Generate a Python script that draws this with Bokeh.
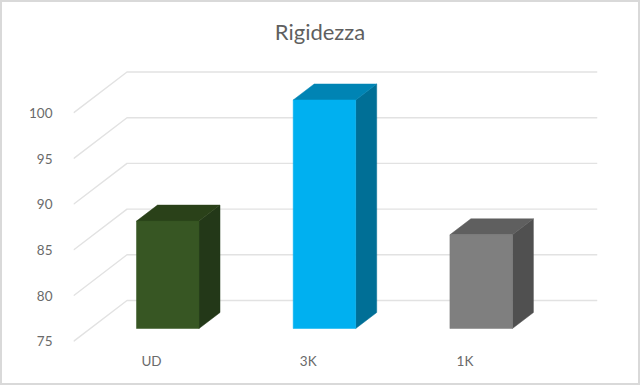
from bokeh.plotting import figure
from bokeh.models import Range1d, LinearAxis, FixedTicker
from bokeh.core.properties import value
from bokeh.embed import file_html
from bokeh.resources import INLINE

title = "Rigidezza"
categories = ["UD", "3K", "1K"]
values = [86.75, 100.0, 85.25]
y_ticks = [75, 80, 85, 90, 95, 100]
front_colors = ["#375623", "#00b0f0", "#7f7f7f"]
top_colors = ["#2a4119", "#0084b4", "#5f5f5f"]
side_colors = ["#233818", "#006f96", "#505050"]

W, H = 640, 385                   # outer size, border included
BW = 2                            # border width
L, R, T, B = 73, 597, 10, 345     # frame edges in page pixels
PX_X = 156.7                      # pixels per category step
PX_Y = 9.14                       # pixels per value unit
X0 = 167.25                       # pixel of the first bar's centre
Y75 = 328.0                       # pixel of value 75 on the bars' front plane
BASE = 75

def xr(px):
    return (px - X0) / PX_X

def vr(px, y75=Y75):
    return BASE + (y75 - px) / PX_Y

p = figure(width=W - 2 * BW, height=H - 2 * BW, output_backend="svg", toolbar_location=None,
           x_range=Range1d(xr(L), xr(R)), y_range=Range1d(vr(B), vr(T)),
           x_axis_type=None, y_axis_type=None,
           min_border_left=L - BW, min_border_right=W - BW - R + 2 * BW,
           min_border_top=T - BW, min_border_bottom=H - BW - B + 2 * BW)
p.grid.visible = False
p.outline_line_color = None
p.background_fill_color = "white"
p.border_fill_color = "white"
p.styles = {"position": "absolute", "left": "0px", "top": "0px",
            "border": f"{BW}px solid #d9d9d9", "box-sizing": "content-box"}

# extra scales: the labels sit on a plane in front of the bars
p.extra_y_ranges["labels"] = Range1d(vr(B, 340.9), vr(T, 340.9))
p.extra_x_ranges["labels"] = Range1d(xr(L + 16.2), xr(R + 16.2))

yaxis = LinearAxis(y_range_name="labels", ticker=FixedTicker(ticks=y_ticks))
xaxis = LinearAxis(x_range_name="labels", ticker=FixedTicker(ticks=list(range(len(categories)))),
                   major_label_overrides={i: c for i, c in enumerate(categories)})
for ax in (yaxis, xaxis):
    ax.axis_line_color = None
    ax.major_tick_line_color = None
    ax.minor_tick_line_color = None
    ax.major_label_text_font = "Lato"
    ax.major_label_text_color = "#6a6a6a"
yaxis.major_label_text_font_size = "13.5px"
yaxis.major_label_standoff = 15
xaxis.major_label_text_font_size = "13.5px"
xaxis.major_label_standoff = 1
p.add_layout(yaxis, "left")
p.add_layout(xaxis, "below")

# title
p.text([xr(319.5)], [vr(31)], text=[title], text_align="center", text_baseline="middle",
       text_font=value("Lato"), text_font_size="22px", text_color="#5f5f5f")

# floor/wall gridlines
back_dy = 28 / PX_Y
label_dy = 12.9 / PX_Y
x_corner = xr(126.5)
grid_xs, grid_ys = [], []
for v in y_ticks:
    grid_xs.append([xr(L), x_corner, xr(R)])
    grid_ys.append([v - label_dy, v + back_dy, v + back_dy])
p.multi_line(grid_xs, grid_ys, line_color="#e2e2e2", line_width=1.4)

# 3-D bars
half = 31.25 / PX_X
dx = 21 / PX_X
dy = 16 / PX_Y
for i, v in enumerate(values):
    x1, x2 = i - half, i + half
    p.patch([x2, x2 + dx, x2 + dx, x2], [BASE, BASE + dy, v + dy, v],
            fill_color=side_colors[i], line_color=side_colors[i], line_width=0.5)
    p.patch([x1, x1 + dx, x2 + dx, x2], [v, v + dy, v + dy, v],
            fill_color=top_colors[i], line_color=top_colors[i], line_width=0.5)
    p.quad(left=x1, right=x2, bottom=BASE, top=v,
           fill_color=front_colors[i], line_color=front_colors[i], line_width=0.5)

open("out.html", "w").write(file_html(p, INLINE))
